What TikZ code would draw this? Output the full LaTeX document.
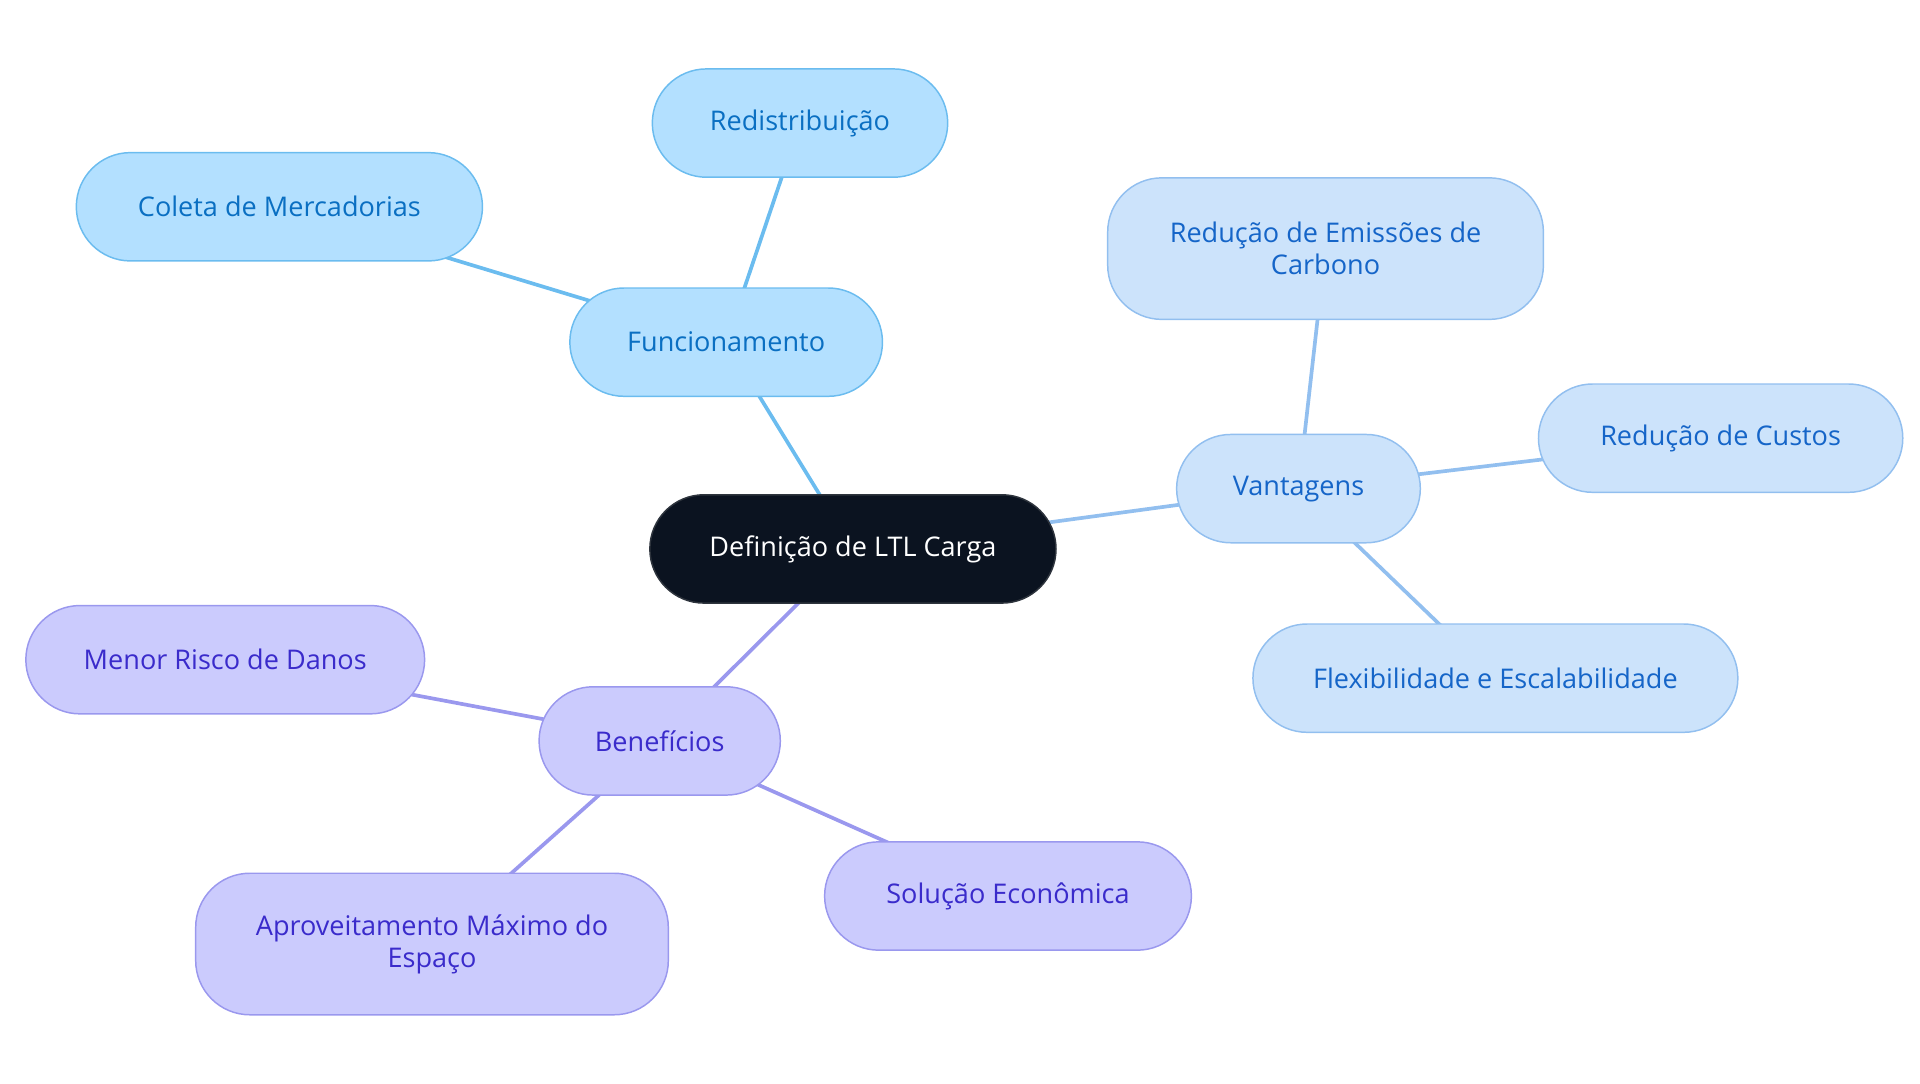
\documentclass[tikz,border=0pt]{standalone}
\usepackage{fontspec}
\setmainfont{Open Sans}
\usetikzlibrary{backgrounds}
\definecolor{bA}{HTML}{B3E0FF}\definecolor{dA}{HTML}{6BBCEF}\definecolor{tA}{HTML}{0A6FC2}
\definecolor{bB}{HTML}{CCE3FB}\definecolor{dB}{HTML}{92BFEF}\definecolor{tB}{HTML}{1565C8}
\definecolor{bC}{HTML}{CBCBFD}\definecolor{dC}{HTML}{9A98EE}\definecolor{tC}{HTML}{3A2BCB}
\definecolor{rootc}{HTML}{0B1320}
\tikzset{
 box/.style={rounded corners=44pt,line width=1.2pt,align=center,inner sep=0pt,
   font=\fontsize{22}{26}\selectfont},
 ga/.style={box,fill=bA,draw=dA,text=tA},
 gb/.style={box,fill=bB,draw=dB,text=tB},
 gc/.style={box,fill=bC,draw=dC,text=tC},
 la/.style={draw=dA,line width=3pt},
 lb/.style={draw=dB,line width=3pt},
 lc/.style={draw=dC,line width=3pt},
}
\begin{document}
\begin{tikzpicture}[x=1pt,y=-1pt]
\useasboundingbox (0,0) rectangle (1560,880);
\node[box,fill=rootc,draw=rootc!70!gray,text=white,minimum width=330pt,minimum height=88pt] (root) at (693,446) {Definição de LTL Carga};
\node[ga,minimum width=254pt,minimum height=88pt] (f) at (590,278) {Funcionamento};
\node[ga,minimum width=240pt,minimum height=88pt] (f1) at (650,100) {Redistribuição};
\node[ga,minimum width=330pt,minimum height=88pt] (f2) at (227,168) {Coleta de Mercadorias};
\node[gb,minimum width=198pt,minimum height=88pt] (v) at (1055,397) {Vantagens};
\node[gb,minimum width=354pt,minimum height=115pt] (v1) at (1077,202) {Redução de Emissões de\\Carbono};
\node[gb,minimum width=296pt,minimum height=88pt] (v2) at (1398,356) {Redução de Custos};
\node[gb,minimum width=394pt,minimum height=88pt] (v3) at (1215,551) {Flexibilidade e Escalabilidade};
\node[gc,minimum width=196pt,minimum height=88pt] (b) at (536,602) {Benefícios};
\node[gc,minimum width=324pt,minimum height=88pt] (b1) at (183,536) {Menor Risco de Danos};
\node[gc,minimum width=384pt,minimum height=115pt] (b2) at (351,767) {Aproveitamento Máximo do\\Espaço};
\node[gc,minimum width=298pt,minimum height=88pt] (b3) at (819,728) {Solução Econômica};
\begin{scope}[on background layer]
\draw[la] (root.center) -- (f.center);
\draw[la] (f.center) -- (f1.center);
\draw[la] (f.center) -- (f2.center);
\draw[lb] (root.center) -- (v.center);
\draw[lb] (v.center) -- (v1.center);
\draw[lb] (v.center) -- (v2.center);
\draw[lb] (v.center) -- (v3.center);
\draw[lc] (root.center) -- (b.center);
\draw[lc] (b.center) -- (b1.center);
\draw[lc] (b.center) -- (b2.center);
\draw[lc] (b.center) -- (b3.center);
\end{scope}
\end{tikzpicture}
\end{document}
